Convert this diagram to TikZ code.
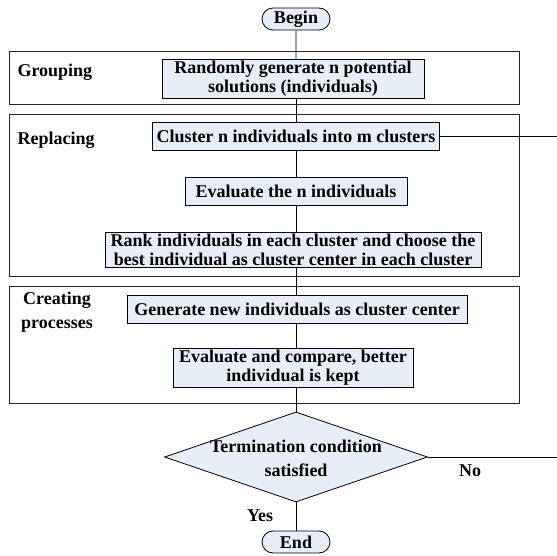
\documentclass[tikz,border=0pt]{standalone}
\usepackage{fontspec}
\setmainfont{Liberation Serif}
\usetikzlibrary{shapes.geometric,shapes.misc}
\definecolor{boxfill}{RGB}{232,238,247}

\tikzset{
    every node/.style={font=\fontsize{18}{19}\selectfont\bfseries},
    procbox/.style={draw, fill=boxfill, line width=0.8pt, inner xsep=3pt, inner ysep=2pt, minimum height=28pt, align=center},
    terminal/.style={draw, fill=boxfill, line width=0.8pt, rounded rectangle, minimum width=68pt, minimum height=22pt, inner sep=0pt},
    decision/.style={draw, fill=boxfill, line width=0.8pt, diamond, minimum width=263pt, minimum height=90pt, inner sep=0pt},
    groupbox/.style={draw=black!85, line width=0.8pt},
    flow/.style={line width=0.8pt}
}

\begin{document}
\begin{tikzpicture}[x=1pt,y=-1pt]
    \useasboundingbox (0,0) rectangle (557,556);
    \draw[groupbox] (9,51) rectangle (519,104);
    \draw[groupbox] (9,114) rectangle (519,276);
    \draw[groupbox] (9,286) rectangle (519,403);
    \node[anchor=west] (grouping) at (14,72) {Grouping};
    \node[anchor=west] (replacing) at (14,140) {Replacing};
    \node[align=center] (creating) at (57,312) {Creating\\[5pt]processes};
    \node[terminal] (begin) at (296,19) {Begin};
    \node[procbox, minimum width=262pt] (random) at (293,79) {Randomly generate n potential\\solutions (individuals)};
    \node[procbox, minimum width=287pt] (cluster) at (296,136) {Cluster n individuals into m clusters};
    \node[procbox, minimum width=222pt] (evaln) at (296,191) {Evaluate the n individuals};
    \node[procbox, minimum width=376pt] (rank) at (293,250) {Rank individuals in each cluster and choose the\\best individual as cluster center in each cluster};
    \node[procbox, minimum width=340pt] (generate) at (297,309) {Generate new individuals as cluster center};
    \node[procbox, minimum width=240pt] (compare) at (293,368) {Evaluate and compare, better\\individual is kept};
    \node[decision] (term) at (296,457) {};
    \node[align=center] (termtext) at (296,458) {Termination condition\\[5pt]satisfied};
    \node[terminal] (end) at (296,542) {End};
    \node (no) at (470,471) {No};
    \node (yes) at (260,516) {Yes};
    \coordinate (loopa) at (557,136);
    \coordinate (loopb) at (557,457);
    \draw[flow] (begin) -- (begin |- random.north);
    \draw[flow] (random.south -| begin) -- (begin |- cluster.north);
    \draw[flow] (cluster.south -| begin) -- (begin |- evaln.north);
    \draw[flow] (evaln.south -| begin) -- (begin |- rank.north);
    \draw[flow] (rank.south -| begin) -- (begin |- generate.north);
    \draw[flow] (generate.south -| begin) -- (begin |- compare.north);
    \draw[flow] (compare.south -| begin) -- (term);
    \draw[flow] (term) -- (end);
    \draw[flow] (cluster) -- (loopa);
    \draw[flow] (term) -- (loopb);
\end{tikzpicture}
\end{document}
